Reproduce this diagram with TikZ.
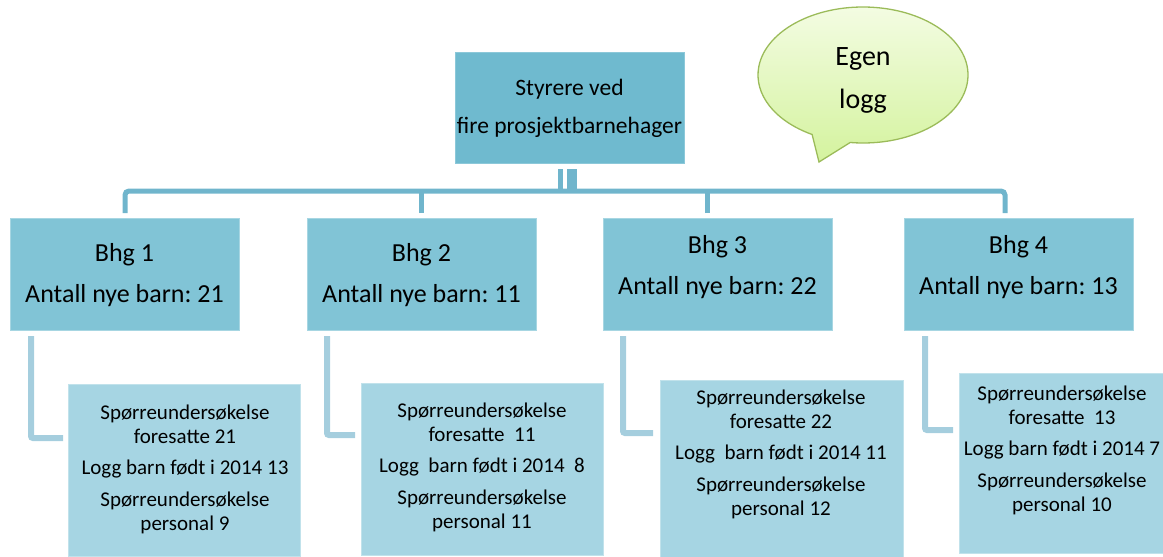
\documentclass[tikz,border=0pt]{standalone}
\usepackage{fontspec}
\setmainfont{Carlito}
\frenchspacing
\definecolor{topfill}{RGB}{111,186,207}
\definecolor{bhgfill}{RGB}{129,196,214}
\definecolor{subfill}{RGB}{166,213,227}
\definecolor{busc}{RGB}{112,181,204}
\definecolor{elbowc}{RGB}{165,206,222}
\definecolor{bubtop}{RGB}{244,252,228}
\definecolor{bubbot}{RGB}{212,243,158}
\definecolor{bubline}{RGB}{155,187,89}
\begin{document}
\begin{tikzpicture}[x=1pt,y=-1pt,
  boxbase/.style={anchor=north west,inner sep=0pt,rectangle},
  topbox/.style={boxbase,fill=topfill,draw=topfill!80!white,line width=0.6pt,minimum width=229pt,minimum height=111pt},
  bhgbox/.style={boxbase,fill=bhgfill,draw=bhgfill!70!white,line width=0.8pt,minimum width=229pt,minimum height=112pt},
  subbox/.style={boxbase,fill=subfill,draw=subfill!70!white,line width=0.8pt,minimum height=172pt},
  toptext/.style={align=center,inner sep=0pt,font=\fontsize{23.5}{28}\selectfont},
  bhgtext/.style={align=center,inner sep=0pt,font=\fontsize{26}{31}\selectfont},
  subtext/.style={align=center,inner sep=0pt,font=\fontsize{21}{24}\selectfont},
  bubtext/.style={align=center,inner sep=0pt,font=\fontsize{28}{34}\selectfont},
  bus/.style={draw=busc,line width=5pt,rounded corners=4pt},
  elbow/.style={draw=elbowc,line width=6pt,rounded corners=2pt}]
\useasboundingbox (0,0) rectangle (1163,557);

% top box
\node[topbox] (top) at (455,52) {};
\node[toptext] (toplbl) at (569.5,108) {Styrere ved\\[10pt]fire prosjektbarnehager};

% speech bubble
\coordinate (bub) at (863,75);
\coordinate (tip) at (819,162);
\draw[bubline,line width=1.3pt,top color=bubtop,bottom color=bubbot]
  (bub) ++(263:105pt and 68pt) arc[start angle=263,end angle=601,x radius=105pt,y radius=68pt]
  -- (tip) -- cycle;
\node[bubtext] (bubl) at (863,80) {Egen\\[9pt]logg};

% Bhg boxes
\node[bhgbox] (b1) at (10,218) {};
\node[bhgbox] (b2) at (307,218) {};
\node[bhgbox] (b3) at (603,218) {};
\node[bhgbox] (b4) at (904,218) {};
\node[bhgtext] (b1t) at (124.5,275) {Bhg 1\\[10pt]Antall nye barn: 21};
\node[bhgtext] (b2t) at (421.5,275) {Bhg 2\\[10pt]Antall nye barn: 11};
\node[bhgtext] (b3t) at (717.5,267) {Bhg 3\\[10pt]Antall nye barn: 22};
\node[bhgtext] (b4t) at (1018.5,267) {Bhg 4\\[10pt]Antall nye barn: 13};

% bus connectors
\coordinate (hb) at (0,191);
\coordinate (d1) at (125,213);
\coordinate (d2) at (421,213);
\coordinate (d3) at (707,213);
\coordinate (d4) at (1005,213);
\coordinate (t1) at (560.5,169);
\coordinate (t2) at (571.5,169);
\draw[bus] (d1) |- (d4 |- hb) -- (d4);
\draw[bus] (d2) -- (d2 |- hb);
\draw[bus] (d3) -- (d3 |- hb);
\draw[bus,line width=4.3pt] (t1) -- (t1 |- hb);
\draw[bus,line width=10pt] (t2) -- ([yshift=-2pt]t2 |- hb);

% sub boxes
\node[subbox,minimum width=232pt] (s1) at (68,384) {};
\node[subbox,minimum width=242pt] (s2) at (361,383) {};
\node[subbox,minimum width=243pt,minimum height=177pt] (s3) at (660,380) {};
\node[subbox,minimum width=208pt,minimum height=180pt] (s4) at (959,373) {};
\node[subtext] (s1t) at (185,469) {Spørreundersøkelse\\foresatte 21\\[7.5pt]Logg barn født i 2014 13\\[7.5pt]Spørreundersøkelse\\personal 9};
\node[subtext] (s2t) at (482,467) {Spørreundersøkelse\\foresatte\ \ 11\\[7.5pt]Logg\ \ barn født i 2014\ \ 8\\[7.5pt]Spørreundersøkelse\\personal 11};
\node[subtext] (s3t) at (781,454) {Spørreundersøkelse\\foresatte 22\\[7.5pt]Logg\ \ barn født i 2014 11\\[7.5pt]Spørreundersøkelse\\personal 12};
\node[subtext] (s4t) at (1062,450) {Spørreundersøkelse\\foresatte\ \ 13\\[7.5pt]Logg barn født i 2014 7\\[7.5pt]Spørreundersøkelse\\personal 10};

% elbow connectors
\coordinate (e1) at (31,336);
\coordinate (e2) at (327,336);
\coordinate (e3) at (623,336);
\coordinate (e4) at (925,336);
\coordinate (f1) at (63,438);
\coordinate (f2) at (355,435);
\coordinate (f3) at (653,433);
\coordinate (f4) at (953,430);
\draw[elbow] (e1) |- (f1);
\draw[elbow] (e2) |- (f2);
\draw[elbow] (e3) |- (f3);
\draw[elbow] (e4) |- (f4);
\end{tikzpicture}
\end{document}
